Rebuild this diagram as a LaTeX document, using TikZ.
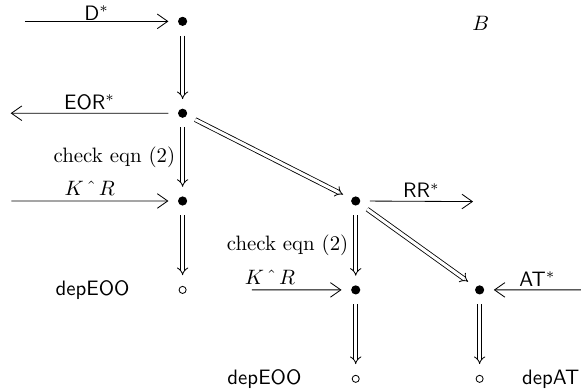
\documentclass[tikz,border=0pt]{standalone}
\usepackage{amsmath}
\usetikzlibrary{positioning, arrows.meta}

\begin{document}
\begin{tikzpicture}[
    on grid, node distance=1.5cm,
    dot/.style={circle, fill, inner sep=0pt, minimum size=4.4pt, outer sep=4.6pt},
    hollow/.style={circle, draw, thin, inner sep=0pt, minimum size=3.4pt, outer sep=5.4pt},
    arrow/.style={-{Straight Barb[length=5pt, width=7pt]}, thin},
    implies/.style={double, double distance=1.5pt, -{Implies[scale=1.3]}, thin},
    lab/.style={font=\sffamily, inner sep=0pt}
]
\useasboundingbox (0,0) rectangle (9.8,-6.6);

\node[dot] (n1) at (3.08,-0.36) {};
\node[dot, below=1.55cm of n1] (n2) {};
\node[dot, below=1.48cm of n2] (n3) {};
\node[hollow, below=of n3] (e1) {};
\node[dot, right=2.92cm of n3] (n4) {};
\node[dot, below=of n4] (n5) {};
\node[hollow, below=of n5] (e2) {};
\node[dot, right=2.09cm of n5] (n6) {};
\node[hollow, below=of n6] (e3) {};

\node (b) at (8.11,-0.39) {$B$};
\node[lab, left=1.52cm of e1] (d1) {depEOO};
\node[lab, left=1.54cm of e2] (d2) {depEOO};
\node[lab, right=1.2cm of e3] (d3) {depAT};

% loose ends of the incoming and outgoing arrows
\coordinate (s1) at (0.42,-0.36);
\coordinate (s2) at (0.18,-1.91);
\coordinate (s3) at (0.19,-3.39);
\coordinate (s4) at (7.98,-3.40);
\coordinate (s5) at (4.25,-4.89);
\coordinate (s6) at (9.8,-4.89);

\draw[arrow] (s1) -- node[lab, above=0.4pt] {D$^*$} (n1);
\draw[arrow] (n2) -- node[lab, above=1.6pt] {EOR$^*$} (s2);
\draw[arrow] (s3) -- node[above, inner sep=2.4pt] {$K\mathbin{\hat{\;}}R$} (n3);
\draw[arrow] (n4) -- node[lab, above=1.6pt] {RR$^*$} (s4);
\draw[arrow] (s5) -- node[above, inner sep=2.4pt, pos=0.2] {$K\mathbin{\hat{\;}}R$} (n5);
\draw[arrow] (s6) -- node[lab, above=1.6pt] {AT$^*$} (n6);

\draw[implies] (n1) -- (n2);
\draw[implies] (n2) -- node[left] {check eqn (2)} (n3);
\draw[implies] (n3) -- (e1);
\draw[implies] (n2) -- (n4);
\draw[implies] (n4) -- node[left] {check eqn (2)} (n5);
\draw[implies] (n4) -- (n6);
\draw[implies] (n5) -- (e2);
\draw[implies] (n6) -- (e3);

\end{tikzpicture}
\end{document}
